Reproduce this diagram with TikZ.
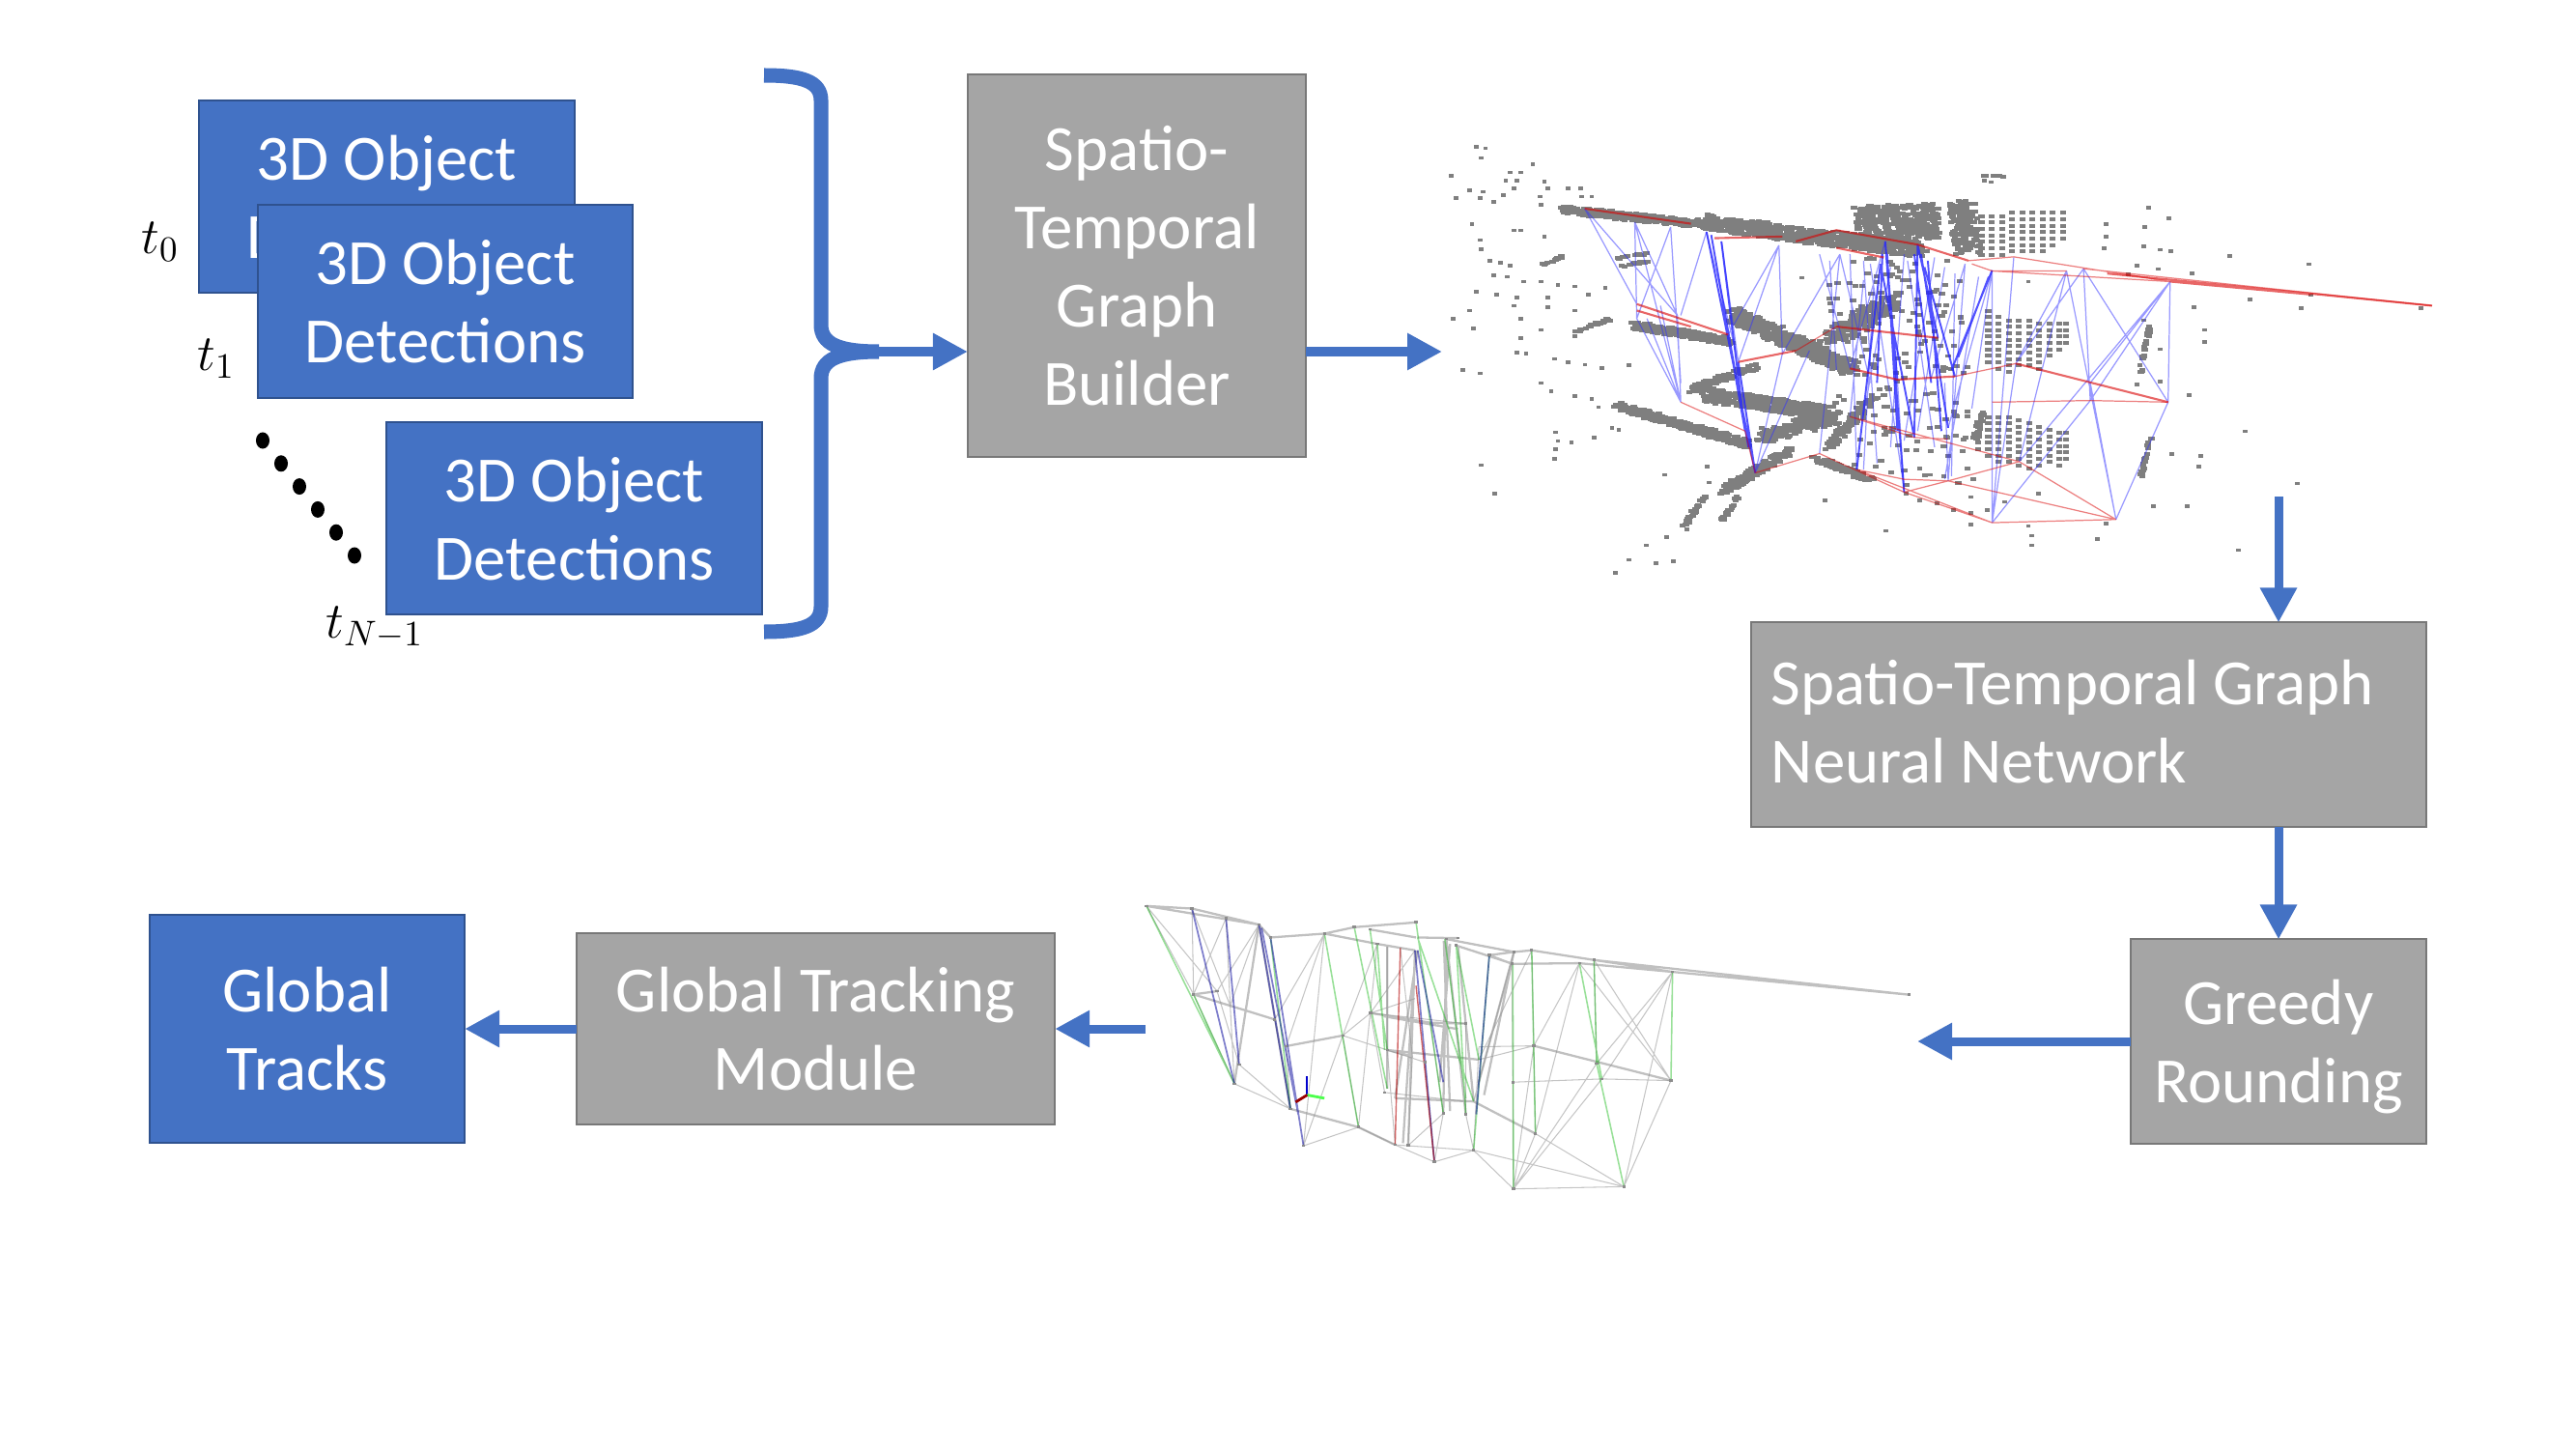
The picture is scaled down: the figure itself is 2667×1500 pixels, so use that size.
\documentclass[tikz,border=0pt]{standalone}
\usepackage{fix-cm}
\usepackage{fontspec}
\setmainfont{Carlito}
\usepackage{tikz}
\usetikzlibrary{
    arrows.meta
}
\definecolor{boxblue}{HTML}{4472C4}
\definecolor{boxblueline}{HTML}{2F528F}
\definecolor{boxgray}{HTML}{A5A5A5}
\definecolor{boxgrayline}{HTML}{787878}
\definecolor{cloudgray}{HTML}{7F7F7F}
\tikzset{
    box/.style={draw, line width=0.02cm, outer sep=0pt, text=white, align=center,
        font=\fontsize{19}{23}\selectfont, text depth=-1pt},
    detbox/.style={box, fill=boxblue, draw=boxblueline},
    procbox/.style={box, fill=boxgray, draw=boxgrayline},
    flow/.style={draw=boxblue, line width=0.09cm, -{Triangle[length=0.36cm,width=0.36cm]}},
    timelabel/.style={font=\fontsize{15}{18}\selectfont, inner sep=0pt},
    blueedge/.style={draw=blue!80!white, opacity=0.5, line width=0.35pt},
    blueheavy/.style={draw=blue!85!white, opacity=0.8, line width=0.55pt},
    rededge/.style={draw=red!85!black, opacity=0.5, line width=0.35pt},
    redheavy/.style={draw=red!85!black, opacity=0.6, line width=0.6pt},
    lightedge/.style={draw=black!45, opacity=0.5, line width=0.3pt},
    darkedge/.style={draw=black!45, opacity=0.55, line width=0.65pt},
    greenedge/.style={draw=green!70!black, opacity=0.4, line width=0.45pt},
    navyedge/.style={draw=blue!60!black, opacity=0.5, line width=0.5pt},
    pinkedge/.style={draw=red!70!black, opacity=0.6, line width=0.4pt}
}
% jittered points along a scan line: x1 y1 x2 y2 xspread yspread count
\newcommand{\scanband}[7]{
    \foreach \i in {1,...,#7} {
        \pgfmathsetmacro{\scant}{rnd}
        \pgfmathsetmacro{\scanx}{#1+(#3-#1)*\scant+(rnd-0.5)*#5}
        \pgfmathsetmacro{\scany}{#2+(#4-#2)*\scant+(rnd-0.5)*#6}
        \fill[cloudgray] (\scanx,\scany) rectangle ++(9,12);
    }
}
\begin{document}
\begin{tikzpicture}[x=0.01cm, y=-0.01cm]
    \useasboundingbox (0,0) rectangle (2667,1500);

    % input detections
    \node[detbox, minimum width=3.89cm, minimum height=1.99cm] (detfirst) at (400.5,203.5) {3D Object\\Detections};
    \node[detbox, minimum width=3.88cm, minimum height=1.99cm] (detsecond) at (461,312) {3D Object\\Detections};
    \node[detbox, minimum width=3.89cm, minimum height=1.99cm] (detlast) at (594.5,536.5) {3D Object\\Detections};
    \node[timelabel] (tfirst) at (166,250) {$t_0$};
    \node[timelabel] (tsecond) at (224,371) {$t_1$};
    \node[timelabel] (tlast) at (388,650) {$t_{N-1}$};
    \foreach \i in {0,...,5}
        \fill[black] (272+19*\i,456+23.8*\i) ellipse[x radius=0.07cm, y radius=0.085cm];

    % processing boxes
    \node[procbox, minimum width=3.5cm, minimum height=3.96cm] (builder) at (1177,275) {Spatio-\\Temporal\\Graph\\Builder};
    \node[procbox, text width=6.57cm, inner xsep=0.21cm, minimum height=2.11cm, align=flush left, text depth=25pt] (gnn) at (2162.5,750) {Spatio-Temporal Graph\\Neural Network};
    \node[procbox, minimum width=3.06cm, minimum height=2.11cm] (greedy) at (2359,1078) {Greedy\\Rounding};
    \node[procbox, minimum width=4.95cm, minimum height=1.97cm] (tracking) at (844.5,1065) {Global Tracking\\Module};
    \node[detbox, minimum width=3.26cm, minimum height=2.35cm] (tracks) at (318,1065) {Global\\Tracks};

    % brace
    \coordinate (bracetip) at (910,364);
    \draw[boxblue, line width=0.15cm] (791,78) .. controls (830,78) and (850,84) .. (850,104)
        -- (850,336) .. controls (850,356) and (868,364) .. (bracetip)
        .. controls (868,364) and (850,372) .. (850,392)
        -- (850,628) .. controls (850,648) and (830,654) .. (791,654);

    % connectors
    \coordinate (cloudin) at (1493,364);
    \coordinate (cloudout) at (2359,514);
    \coordinate (prunedin) at (1985,1078);
    \coordinate (prunedout) at (1186,1065);
    \draw[flow] (bracetip) -- (bracetip -| builder.west);
    \draw[flow] (cloudin -| builder.east) -- (cloudin);
    \draw[flow] (cloudout) -- (cloudout |- gnn.north);
    \draw[flow] (greedy.north |- gnn.south) -- (greedy.north);
    \draw[flow] (greedy.west) -- (prunedin);
    \draw[flow] (prunedout) -- (tracking.east);
    \draw[flow] (tracking.west) -- (tracks.east);

    % point cloud with detections graph
    \begin{scope}[shift={(14.8cm,-1.3cm)}, x=0.00701cm, y=-0.00333cm]
        \pgfmathsetseed{11}
        % dense scan bands
        \scanband{190}{255}{420}{305}{10}{24}{320}
        \scanband{400}{295}{720}{380}{10}{48}{600}
        \scanband{625}{300}{745}{290}{10}{110}{380}
        \scanband{780}{230}{790}{395}{40}{10}{150}
        \scanband{295}{615}{440}{665}{10}{24}{300}
        \scanband{440}{580}{620}{750}{20}{50}{500}
        \scanband{590}{660}{680}{530}{40}{40}{220}
        \scanband{270}{865}{465}{985}{10}{26}{360}
        \scanband{400}{830}{590}{890}{10}{45}{340}
        \scanband{490}{960}{590}{900}{30}{40}{220}
        \scanband{430}{1130}{525}{1005}{14}{24}{170}
        \scanband{560}{1030}{650}{1095}{8}{22}{90}
        \scanband{585}{990}{650}{840}{14}{30}{110}
        \scanband{380}{815}{480}{740}{10}{24}{90}
        \scanband{425}{1225}{450}{1150}{6}{10}{20}
        \scanband{370}{1240}{400}{1150}{8}{10}{30}
        \scanband{800}{975}{812}{880}{8}{10}{30}
        \scanband{1045}{760}{1060}{600}{4}{6}{25}
        \scanband{1045}{1090}{1060}{960}{4}{6}{20}
        \scanband{210}{635}{260}{595}{8}{8}{20}
        \scanband{265}{408}{315}{392}{4}{6}{15}
        \scanband{270}{433}{315}{417}{4}{6}{15}
        \scanband{160}{428}{190}{402}{4}{6}{12}
        \scanband{810}{148}{850}{152}{3}{4}{10}
        \scanband{680}{400}{700}{1100}{200}{40}{170}
        % regular dot patches
        \foreach \x/\t/\n in {810/275/7,825/275/7,840/275/7,855/265/7,870/265/7,885/265/7,900/265/7,915/265/6,930/265/5}
            \foreach \y in {1,...,\n}
                \fill[cloudgray] (\x,\t+20*\y-20) rectangle ++(9,12);
        \foreach \x/\t/\n in {820/570/9,835/590/9,850/600/9,865/600/8,880/600/8,895/610/8,910/610/6,925/610/5,935/610/4}
            \foreach \y in {1,...,\n}
                \fill[cloudgray] (\x,\t+20*\y-20) rectangle ++(9,12);
        \foreach \x/\t/\n in {805/960/3,820/900/7,835/900/8,850/900/8,865/910/8,880/920/8,895/930/7,910/940/6,925/950/6,935/950/5}
            \foreach \y in {1,...,\n}
                \fill[cloudgray] (\x,\t+20*\y-20) rectangle ++(9,12);
        % loose points
        \foreach \x/\y in {65/60,78/65,72/95,148/115,27/150,115/140,130/140,108/165,125/165,165/168,120/190,170/190,200/190,218/190,55/195,75/200,105/210,70/220,35/220,90/232,158/215,220/215,235/215,160/240,190/250,58/300,120/320,130/320,165/340,70/350,72/378,85/415,100/420,115/430,90/460,110/465,135/480,160/480,185/490,210/495,65/512,95/520,125/530,170/530,230/520,255/500,120/555,170/560,30/595,55/570,130/595,210/570,60/625,160/630,130/655,210/650,125/700,138/703,180/720,200/730,225/738,250/748,290/740,45/755,70/765,160/795,175/820,210/835,235/845,245/870,265/935,275/940,182/948,185/975,205/980,238/965,182/1000,180/1030,72/1050,92/1140,343/1080,405/1055,408/1105,580/1160,670/1255,885/1270,885/1300,982/1280,1190/1315,1115/1178,1065/1178,1277/1108,1135/1022,1132/1055,1092/1015,1200/945,1118/832,1140/630,1140/668,1125/560,1283/562,1207/535,1297/522,1178/400,1295/425,1122/455,1090/385,1075/380,1050/370,995/300,995/340,992/375,1058/250,1088/282,1052/310,1040/430,1072/440,1460/562,1028/458,880/480,545/468,815/165,825/170,1050/600,1075/690,1045/740,1075/790,1040/800,700/1140,720/1160,745/1170,770/1190,795/1200,820/1190,845/1165,880/1240,795/1235,995/1232,895/1140,795/1150,720/1060,735/1080,755/1085,355/1350,330/1355,290/1345,270/1385,315/1300,345/1275,375/1250}
            \fill[cloudgray] (\x,\y) rectangle ++(7,11);
        % blue links
        \draw[blueedge] (228,258) -- (305,555) (228,258) -- (365,590) (302,300) -- (305,600) (302,300) -- (370,860)
            (302,300) -- (365,590) (355,315) -- (370,800) (355,315) -- (305,600) (320,600) -- (370,860)
            (305,600) -- (370,860) (365,590) -- (370,860) (340,560) -- (370,860) (408,330) -- (370,590)
            (408,330) -- (455,735) (430,360) -- (455,735) (515,372) -- (440,650) (515,372) -- (455,735)
            (515,372) -- (520,710) (520,710) -- (480,1080) (560,700) -- (480,1080) (575,400) -- (620,755)
            (605,400) -- (575,1020) (620,400) -- (630,1070) (605,400) -- (520,710) (672,360) -- (620,755)
            (790,430) -- (765,1105) (790,430) -- (740,785) (830,450) -- (765,940) (830,450) -- (830,860)
            (862,410) -- (830,1235) (830,860) -- (830,1235) (865,740) -- (830,1235) (940,452) -- (865,740)
            (940,452) -- (870,1045) (965,445) -- (865,740) (965,445) -- (975,855) (965,445) -- (1090,860)
            (940,452) -- (1013,1225) (1093,485) -- (975,800) (1093,485) -- (870,1045) (1093,485) -- (1090,860)
            (1090,860) -- (1013,1225) (975,855) -- (830,1235) (975,800) -- (1013,1225) (1093,485) -- (975,855)
            (620,905) -- (640,480) (640,1070) -- (655,500) (700,1140) -- (690,790) (765,1105) -- (760,800)
            (640,420) -- (660,1050) (650,430) -- (700,1130) (680,440) -- (640,900) (700,400) -- (680,1000)
            (705,420) -- (745,1000) (745,410) -- (700,980) (760,440) -- (720,950) (775,460) -- (770,1090)
            (605,400) -- (650,800) (590,420) -- (600,760) (810,470) -- (760,1100) (830,450) -- (800,880);
        \draw[blueheavy] (408,330) -- (480,1080) (430,360) -- (465,950) (455,735) -- (480,1080) (440,650) -- (465,950)
            (415,340) -- (470,1000) (672,360) -- (690,790) (672,360) -- (700,1140) (665,430) -- (630,1070)
            (665,430) -- (715,970) (668,400) -- (660,800) (675,400) -- (690,950) (720,370) -- (715,970)
            (725,400) -- (765,940) (720,370) -- (750,660) (730,440) -- (775,780) (715,400) -- (740,800)
            (735,420) -- (755,950) (830,450) -- (770,760) (825,470) -- (780,720);
        % red links
        \draw[redheavy] (228,258) -- (385,305) (420,350) -- (520,345) (540,360) -- (600,325) (600,325) -- (720,370)
            (720,370) -- (795,420) (600,380) -- (670,410) (305,555) -- (440,650) (305,575) -- (385,625)
            (455,735) -- (540,700) (600,625) -- (750,660) (620,755) -- (690,790) (690,790) -- (775,780)
            (865,740) -- (1090,860) (1000,460) -- (1480,560) (1093,485) -- (1300,525);
        \draw[rededge] (795,420) -- (862,408) (862,408) -- (1093,485) (965,445) -- (1480,560) (800,430) -- (830,452)
            (830,452) -- (940,452) (830,452) -- (1093,485) (540,700) -- (600,625) (775,780) -- (865,740)
            (830,860) -- (975,855) (975,855) -- (1090,860) (370,860) -- (465,950) (465,950) -- (480,1080)
            (480,1080) -- (575,1020) (575,1020) -- (700,1140) (700,1140) -- (830,1235) (830,1235) -- (1013,1225)
            (700,1140) -- (765,1105) (765,1105) -- (870,1045) (620,905) -- (870,1045) (765,1105) -- (1013,1225)
            (870,1045) -- (1013,1225) (630,1070) -- (700,1100) (700,1100) -- (765,1105) (620,905) -- (715,970)
            (715,970) -- (765,975) (630,1070) -- (830,1235);
    \end{scope}

    % pruned graph
    \begin{scope}[shift={(11.7cm,-9.2cm)}, x=0.00542cm, y=-0.00333cm]
        \draw[lightedge] (30,52) -- (120,327) (30,52) -- (165,317) (117,60) -- (120,327) (117,60) -- (190,362)
            (182,90) -- (190,362) (182,90) -- (120,327) (245,110) -- (165,317) (245,110) -- (190,362)
            (120,327) -- (198,605) (165,317) -- (207,545) (190,362) -- (198,605) (275,405) -- (305,683)
            (297,488) -- (305,683) (405,455) -- (330,798) (370,138) -- (297,488) (370,138) -- (275,405)
            (370,138) -- (330,798) (405,455) -- (435,740) (471,170) -- (405,455) (471,170) -- (435,740)
            (458,385) -- (485,632) (490,178) -- (490,500) (515,183) -- (538,520) (543,190) -- (458,385)
            (490,500) -- (505,795) (538,520) -- (530,797) (562,538) -- (580,848) (572,415) -- (597,697)
            (640,418) -- (640,700) (665,490) -- (655,812) (732,195) -- (655,660) (728,232) -- (730,600)
            (766,190) -- (665,530) (766,190) -- (770,487) (770,487) -- (773,760) (730,600) -- (731,932)
            (857,230) -- (770,487) (857,230) -- (773,760) (885,220) -- (890,542) (885,220) -- (1032,595)
            (1035,257) -- (890,542) (1035,257) -- (900,590) (857,230) -- (1032,595) (1035,257) -- (942,925)
            (1032,595) -- (942,925) (900,590) -- (731,932) (890,542) -- (731,932) (770,487) -- (731,932)
            (655,812) -- (731,932) (580,848) -- (597,697) (530,797) -- (597,697) (655,812) -- (640,700)
            (198,605) -- (305,683) (207,545) -- (305,683) (330,798) -- (435,740) (435,740) -- (505,795)
            (505,795) -- (580,848) (580,848) -- (655,812) (655,812) -- (731,932) (655,812) -- (942,925)
            (731,932) -- (942,925) (773,760) -- (942,925) (773,760) -- (731,932) (730,600) -- (900,590)
            (900,590) -- (1032,595) (458,385) -- (543,340) (405,455) -- (490,500) (490,500) -- (562,538)
            (665,490) -- (770,487) (665,530) -- (770,487) (485,632) -- (640,660) (505,795) -- (655,812)
            (405,455) -- (458,385) (458,385) -- (640,418);
        \draw[darkedge] (30,52) -- (117,60) (30,52) -- (245,110) (117,60) -- (245,110) (245,110) -- (267,150)
            (267,150) -- (370,138) (370,138) -- (427,118) (427,118) -- (545,103) (457,125) -- (545,150)
            (370,138) -- (471,170) (471,170) -- (543,190) (548,150) -- (625,152) (603,155) -- (732,195)
            (622,175) -- (730,232) (685,205) -- (732,195) (732,195) -- (766,190) (730,232) -- (857,230)
            (685,205) -- (728,232) (766,190) -- (885,220) (885,220) -- (1035,257) (857,230) -- (1035,257)
            (1035,257) -- (1487,328) (885,220) -- (1487,328) (120,327) -- (165,317) (120,327) -- (275,405)
            (297,488) -- (405,455) (458,385) -- (572,415) (483,395) -- (625,435) (572,415) -- (640,418)
            (490,500) -- (665,530) (490,500) -- (538,520) (770,487) -- (1032,595) (305,683) -- (435,740)
            (505,650) -- (655,660) (435,740) -- (505,795) (655,660) -- (773,760) (245,110) -- (305,683)
            (543,190) -- (530,797) (603,155) -- (640,700) (732,195) -- (665,600) (732,195) -- (675,640)
            (603,155) -- (597,697) (548,190) -- (505,650) (625,175) -- (655,660) (490,178) -- (490,620)
            (245,110) -- (198,605) (598,160) -- (610,690) (610,170) -- (590,600) (540,300) -- (520,790);
        \draw[greenedge] (30,52) -- (198,605) (120,327) -- (198,605) (267,150) -- (305,683) (370,138) -- (435,740)
            (427,118) -- (490,620) (457,125) -- (490,500) (545,103) -- (597,697) (548,150) -- (655,660)
            (622,175) -- (640,700) (622,175) -- (665,530) (685,205) -- (655,812) (730,232) -- (731,932)
            (766,190) -- (773,760) (857,230) -- (900,590) (885,220) -- (890,542) (890,542) -- (942,925)
            (1035,257) -- (1032,595) (471,170) -- (485,500) (600,155) -- (640,650);
        \draw[navyedge] (117,60) -- (198,605) (182,90) -- (207,545) (245,110) -- (305,683) (267,150) -- (330,798)
            (250,120) -- (320,700) (548,190) -- (597,600) (543,190) -- (580,848) (685,205) -- (660,700);
        \draw[pinkedge] (515,183) -- (505,795) (545,300) -- (580,848);
        \foreach \x/\y in {30/52,117/60,182/90,245/110,267/150,370/138,427/118,457/125,545/103,471/170,603/155,625/152,622/175,685/205,732/195,766/190,728/232,857/230,885/220,1035/257,1487/328,120/327,165/317,275/405,297/488,405/455,458/385,640/418,490/500,562/538,770/487,730/600,890/542,900/590,1032/595,198/605,207/545,305/683,330/798,435/740,485/632,505/795,530/797,580/848,597/697,640/700,655/812,773/760,731/932,942/925}
            \fill[black!45] (\x-3,\y-4) rectangle ++(6,8);
        % axes mark
        \draw[blue!80!black, line width=0.5pt] (337,640) -- (337,582);
        \draw[green!70!white, line width=0.8pt] (337,640) -- (370,650);
        \draw[red!60!black, line width=0.8pt] (337,640) -- (315,662);
    \end{scope}
\end{tikzpicture}
\end{document}
